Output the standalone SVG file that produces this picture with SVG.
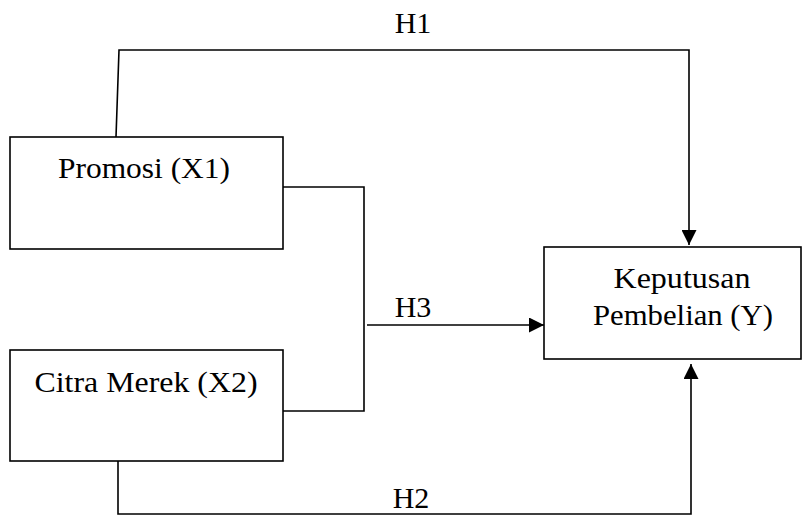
<svg xmlns="http://www.w3.org/2000/svg" width="804" height="516" viewBox="0 0 804 516">
<defs>
<style>
.box{fill:#fff;stroke:#000;stroke-width:1.6}
.ln{fill:none;stroke:#000;stroke-width:1.6}
.t{font-family:"Liberation Serif","Times New Roman",serif;font-size:30px;fill:#000}
</style>
<marker id="ah" viewBox="0 0 10 10" refX="10" refY="5" markerWidth="15" markerHeight="15" markerUnits="userSpaceOnUse" orient="auto">
<path d="M0,0 L10,5 L0,10 Z" fill="#000"/>
</marker>
</defs>
<rect width="804" height="516" fill="#fff"/>
<g id="connectors">
<path class="ln" d="M116,137 L119,50 L689,50 L689,245" marker-end="url(#ah)"/>
<path class="ln" d="M283,187 L364,187 L364,411 L283,411"/>
<path class="ln" d="M367,325 L544,325" marker-end="url(#ah)"/>
<path class="ln" d="M118,461 L118,514 L691,514 L691,364" marker-end="url(#ah)"/>
<text class="t" x="413" y="33" text-anchor="middle">H1</text>
<text class="t" x="413" y="317" text-anchor="middle">H3</text>
<text class="t" x="411" y="508" text-anchor="middle">H2</text>
</g>
<g id="promosi">
<rect class="box" x="10" y="137" width="273" height="112"/>
<text class="t" x="144" y="178" text-anchor="middle" textLength="172" lengthAdjust="spacingAndGlyphs">Promosi (X1)</text>
</g>
<g id="citra">
<rect class="box" x="10" y="350" width="273" height="111"/>
<text class="t" x="146" y="392" text-anchor="middle" textLength="223" lengthAdjust="spacingAndGlyphs">Citra Merek (X2)</text>
</g>
<g id="keputusan">
<rect class="box" x="544" y="247" width="257" height="112"/>
<text class="t" x="682" y="288" text-anchor="middle" textLength="137" lengthAdjust="spacingAndGlyphs">Keputusan</text>
<text class="t" x="683" y="325" text-anchor="middle" textLength="180" lengthAdjust="spacingAndGlyphs">Pembelian (Y)</text>
</g>
</svg>
